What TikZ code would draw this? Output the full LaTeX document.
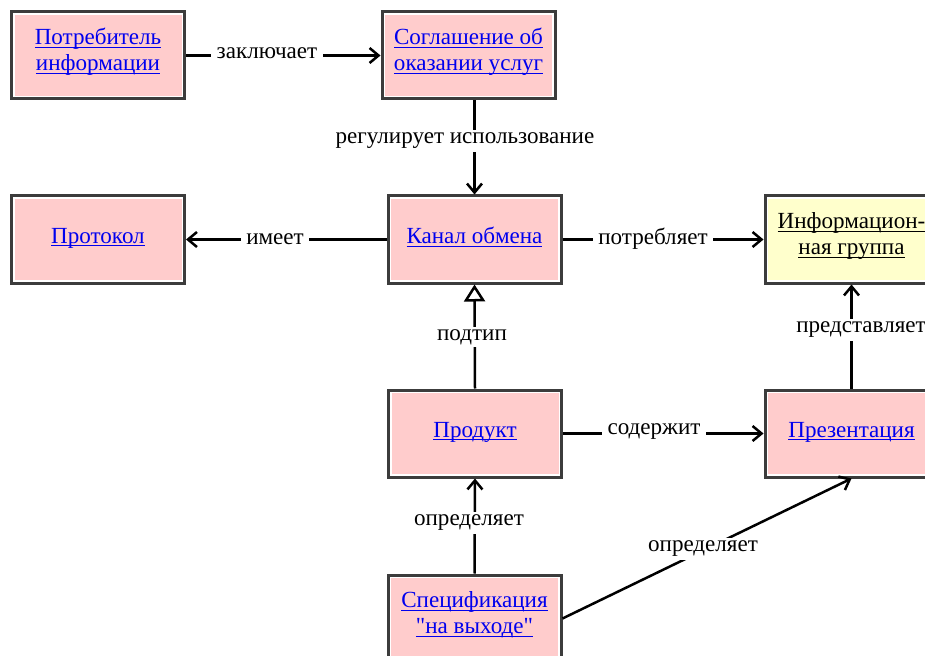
\documentclass[tikz,border=0pt]{standalone}
\usepackage{fontspec}
\setmainfont{Liberation Serif}[Ligatures=TeXOff]
\usetikzlibrary{arrows.meta}
\definecolor{boxpink}{HTML}{FFCCCC}
\definecolor{boxyellow}{HTML}{FFFFCC}
\definecolor{boxborder}{HTML}{3C3C3C}
\definecolor{linkblue}{HTML}{0000EE}
\newcommand{\lnk}[1]{\setbox0\hbox{#1}\rlap{\rule[-2.4pt]{\wd0}{0.8pt}}\box0}
\tikzset{
  entity/.style={rectangle, draw=boxborder, line width=2.25pt, fill=white,
    minimum width=129.75pt, minimum height=65.25pt, inner sep=0pt,
    align=center, text=linkblue,
    font=\fontsize{17.3pt}{19.5pt}\selectfont,
    path picture={\fill[#1] ([shift={(2.25pt,2.25pt)}]path picture bounding box.south west)
      rectangle ([shift={(-2.25pt,-2.25pt)}]path picture bounding box.north east);}},
  entity/.default=boxpink,
  rel/.style={line width=1.875pt, draw=black},
  arr/.style={rel, -{Straight Barb[length=6.75pt,width=11.25pt,line width=1.875pt]}},
  gen/.style={rel, -{Triangle[open,length=12.75pt,width=15.75pt,line width=1.875pt,fill=white]}},
  lbl/.style={fill=white, inner xsep=4pt, inner ysep=2pt, font=\fontsize{17.3pt}{19.5pt}\selectfont, text=black}
}
\begin{document}
\begin{tikzpicture}[x=0.75pt,y=-0.75pt]
\clip (0,0) rectangle (925,656);
\fill[white] (0,0) rectangle (925,656);
% boxes
\node[entity] (cons) at (98,55.5) {\lnk{Потребитель}\\\lnk{информации}\\[-10.5pt]};
\node[entity] (agr) at (468.5,55.5) {\lnk{Соглашение об}\\\lnk{оказании услуг}\\[-10.5pt]};
\node[entity] (prot) at (98,239.5) {\lnk{Протокол}\\[-13.5pt]};
\node[entity] (chan) at (474.5,239.5) {\lnk{Канал обмена}\\[-13.5pt]};
\node[entity=boxyellow, text=black] (info) at (851.5,239.5) {\lnk{Информацион-}\\\lnk{ная группа}\\[-10.5pt]};
\node[entity] (prod) at (475,433.5) {\lnk{Продукт}\\[-13.5pt]};
\node[entity] (pres) at (851.5,433.5) {\lnk{Презентация}\\[-13.5pt]};
\node[entity] (spec) at (474.5,618.5) {\lnk{Спецификация}\\\lnk{"на выходе"}\\[-10.5pt]};
% connectors
\draw[arr] (cons.east) -- (cons.east -| agr.west);
\draw[arr] (chan.north |- agr.south) -- (chan.north);
\draw[arr] (chan.west) -- (prot.east);
\draw[arr] (chan.east) -- (info.west);
\draw[gen] (prod.north) -- (chan.south);
\draw[arr] (prod.east) -- (prod.east -| pres.west);
\draw[arr] (pres.north) -- (info.south);
\draw[arr] (spec.north) -- (prod.south);
\draw[arr] (spec.east) -- (pres.south);
% labels
\node[lbl] (l1) at (267,53) {заключает};
\node[lbl] (l2) at (465,141) {регулирует использование};
\node[lbl] (l3) at (275,239) {имеет};
\node[lbl] (l4) at (653,239) {потребляет};
\node[lbl] (l5) at (472,337) {подтип};
\node[lbl] (l6) at (654,432) {содержит};
\node[lbl] (l7) at (861,330) {представляет};
\node[lbl] (l8) at (469,523) {определяет};
\node[lbl] (l9) at (703,549) {определяет};
\end{tikzpicture}
\end{document}
